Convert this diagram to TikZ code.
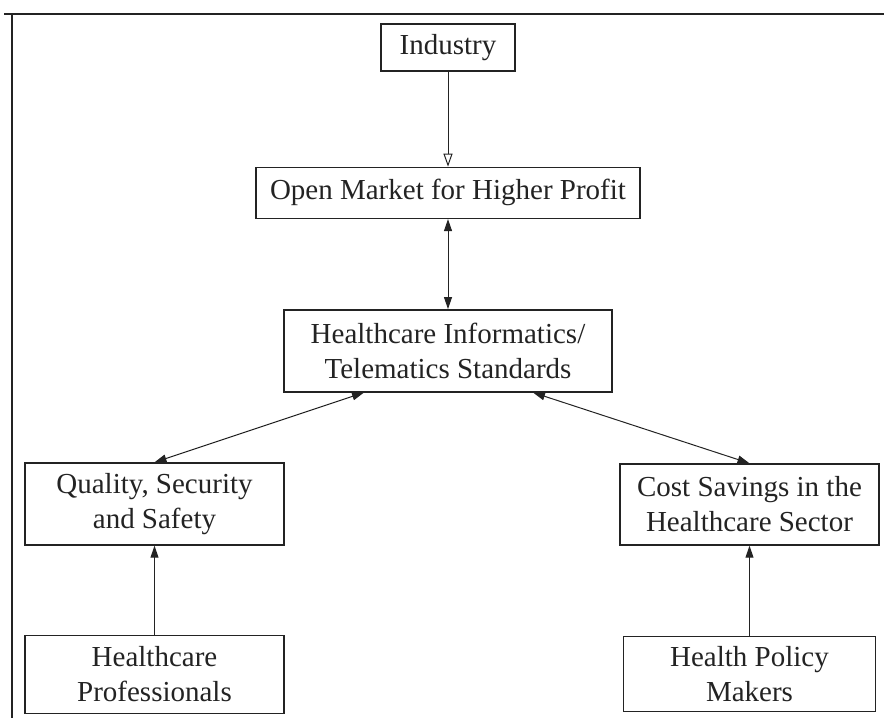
\documentclass[tikz,border=0pt]{standalone}
\usepackage{fontspec}
\setmainfont{Liberation Serif}
\usetikzlibrary{arrows.meta, positioning}
\definecolor{ink}{RGB}{35,35,35}
\tikzset{
  box/.style={rectangle, draw=ink, line width=1.4pt, align=center,
    font=\fontsize{29}{35}\selectfont, text=ink, inner sep=4pt},
  arrow/.style={-{Triangle[length=12pt,width=8pt]}, line width=1pt, color=ink},
  openarrow/.style={-{Triangle[open,length=13pt,width=9pt]}, line width=1pt, color=ink},
  dblarrow/.style={{Triangle[length=12pt,width=8pt]}-{Triangle[length=12pt,width=8pt]}, line width=1pt, color=ink},
  frame/.style={line width=1.4pt, color=ink}
}
\begin{document}
\begin{tikzpicture}[x=1pt, y=1pt]
  \useasboundingbox (0,0) rectangle (884,-718);
  % Frame
  \draw[frame] (4,-14) -- (884,-14);
  \draw[frame] (12,-14) -- (12,-718);

  % Middle column
  \node[box, minimum width=134pt, minimum height=47pt] (ind) at (448,-47.5) {Industry};
  \node[box, minimum width=384pt, minimum height=51pt, below=95pt of ind] (omk) {Open Market for Higher Profit};
  \node[box, minimum width=328pt, minimum height=82pt, below=90pt of omk] (his) {Healthcare Informatics/\\Telematics Standards};

  % Left column
  \node[box, minimum width=259pt, minimum height=82pt] (qss) at (154.5,-504) {Quality, Security\\and Safety};
  \node[box, minimum width=259pt, minimum height=78pt, below=89pt of qss] (hcp) {Healthcare\\Professionals};

  % Right column
  \node[box, minimum width=259pt, minimum height=81pt] (csh) at (749.5,-504.5) {Cost Savings in the\\Healthcare Sector};
  \node[box, minimum width=252pt, minimum height=75pt, below=90pt of csh] (hpm) {Health Policy\\Makers};

  % Connections
  \draw[openarrow] (ind) -- (omk);
  \draw[dblarrow] (omk) -- (his);
  \draw[dblarrow] ([xshift=-84pt]his.south) -- (qss.north);
  \draw[dblarrow] ([xshift=85pt]his.south) -- (csh.north);
  \draw[arrow] (hcp) -- (qss);
  \draw[arrow] (hpm) -- (csh);
\end{tikzpicture}
\end{document}
